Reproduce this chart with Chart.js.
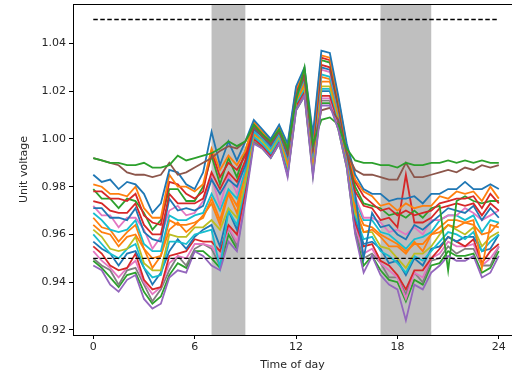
<!DOCTYPE html>
<html>
<head>
<meta charset="utf-8">
<script src="https://cdn.jsdelivr.net/npm/chart.js@4.4.0/dist/chart.umd.min.js"></script>
<style>
  html, body { margin: 0; padding: 0; background: #fff; }
  canvas { display: block; }
</style>
</head>
<body>
<canvas id="chart" width="512" height="377"></canvas>
<script>
// ---- data (unit voltage, half-hourly) ----
const HOURS = [0,0.5,1,1.5,2,2.5,3,3.5,4,4.5,5,5.5,6,6.5,7,7.5,8,8.5,9,9.5,10,10.5,11,11.5,12,
  12.5,13,13.5,14,14.5,15,15.5,16,16.5,17,17.5,18,18.5,19,19.5,20,20.5,21,21.5,22,22.5,23,23.5,24];

const X_TICKS = [0, 6, 12, 18, 24];
const Y_TICKS = [0.92, 0.94, 0.96, 0.98, 1.00, 1.02, 1.04];
const LIMITS = [0.95, 1.05];
const PEAK_WINDOWS = [[7, 9], [17, 20]];

const V_GREEN = [0.992,0.991,0.990,0.990,0.989,0.989,0.990,0.988,0.988,0.989,0.993,0.991,0.992,0.993,
  0.994,0.996,0.999,0.997,0.999,1.006,1.002,0.999,1.004,0.996,1.016,1.030,0.998,1.008,1.009,1.006,0.996,
  0.991,0.990,0.990,0.989,0.989,0.988,0.990,0.989,0.989,0.990,0.990,0.991,0.990,0.991,0.990,0.991,0.990,0.990];
const V_BROWN = [0.992,0.991,0.990,0.989,0.986,0.985,0.985,0.984,0.985,0.990,0.985,0.986,0.988,0.990,
  0.992,0.995,0.997,0.996,0.999,1.005,1.001,0.998,1.003,0.994,1.018,1.026,0.996,1.012,1.013,1.008,0.994,
  0.987,0.985,0.985,0.984,0.983,0.983,0.990,0.984,0.984,0.985,0.986,0.987,0.986,0.988,0.987,0.989,0.988,0.989];
const V_01 = [0.985,0.982,0.983,0.979,0.982,0.981,0.977,0.969,0.973,0.987,0.986,0.981,0.979,0.986,
  1.003,0.989,0.999,0.991,0.999,1.008,1.004,1.000,1.006,0.998,1.022,1.030,1.002,1.037,1.036,1.018,0.998,
  0.985,0.979,0.977,0.977,0.974,0.975,0.975,0.976,0.973,0.977,0.977,0.979,0.979,0.982,0.979,0.979,0.981,0.979];
const V_02 = [0.981,0.980,0.977,0.977,0.976,0.980,0.971,0.967,0.967,0.985,0.980,0.980,0.978,0.981,
  0.996,0.987,0.993,0.989,0.995,1.007,1.003,0.999,1.005,0.997,1.021,1.029,1.000,1.035,1.034,1.017,0.997,
  0.983,0.978,0.976,0.972,0.973,0.970,0.973,0.971,0.972,0.972,0.976,0.975,0.978,0.977,0.978,0.974,0.980,0.975];
const V_03 = [0.979,0.975,0.975,0.971,0.975,0.974,0.969,0.962,0.966,0.979,0.979,0.974,0.974,0.980,
  0.993,0.981,0.992,0.984,0.995,1.006,1.003,0.999,1.005,0.995,1.020,1.028,0.999,1.033,1.032,1.015,0.996,
  0.980,0.973,0.972,0.971,0.968,0.969,0.967,0.970,0.967,0.971,0.972,0.945,0.974,0.976,0.974,0.973,0.974,0.974];
const V_04 = [0.974,0.973,0.970,0.969,0.969,0.973,0.964,0.960,0.960,0.977,0.973,0.973,0.973,0.975,
  0.986,0.979,0.986,0.982,0.991,1.005,1.002,0.998,1.004,0.994,1.019,1.027,0.997,1.031,1.030,1.014,0.995,
  0.978,0.972,0.971,0.966,0.967,0.963,0.985,0.965,0.965,0.967,0.971,0.972,0.973,0.972,0.973,0.968,0.973,0.970];
const V_05 = [0.972,0.968,0.968,0.963,0.967,0.967,0.962,0.954,0.959,0.970,0.972,0.968,0.969,0.974,
  0.984,0.972,0.985,0.977,0.991,1.004,1.001,0.997,1.003,0.993,1.018,1.026,0.996,1.029,1.028,1.013,0.994,
  0.976,0.967,0.967,0.965,0.961,0.962,0.960,0.963,0.960,0.966,0.966,0.968,0.968,0.971,0.969,0.966,0.968,0.970];
const V_06 = [0.969,0.966,0.962,0.961,0.962,0.966,0.956,0.953,0.953,0.968,0.966,0.966,0.968,0.969,
  0.977,0.970,0.979,0.975,0.987,1.003,1.000,0.996,1.002,0.992,1.017,1.025,0.994,1.027,1.026,1.012,0.993,
  0.974,0.966,0.966,0.961,0.960,0.957,0.954,0.958,0.959,0.961,0.966,0.968,0.968,0.966,0.968,0.961,0.966,0.965];
const V_07 = [0.964,0.961,0.960,0.955,0.959,0.960,0.954,0.946,0.951,0.962,0.965,0.961,0.964,0.968,
  0.973,0.964,0.977,0.969,0.986,1.002,1.000,0.996,1.002,0.990,1.016,1.023,0.992,1.024,1.024,1.010,0.992,
  0.971,0.961,0.962,0.959,0.955,0.955,0.952,0.957,0.953,0.960,0.961,0.964,0.963,0.965,0.964,0.960,0.961,0.965];
const V_08 = [0.962,0.959,0.954,0.953,0.954,0.959,0.948,0.945,0.945,0.960,0.959,0.959,0.963,0.963,
  0.966,0.962,0.971,0.967,0.982,1.002,0.999,0.995,1.001,0.989,1.016,1.022,0.990,1.022,1.022,1.009,0.992,
  0.969,0.961,0.961,0.955,0.954,0.950,0.946,0.952,0.952,0.955,0.960,0.964,0.962,0.960,0.963,0.955,0.959,0.961];
const V_09 = [0.957,0.954,0.952,0.947,0.952,0.953,0.946,0.939,0.944,0.953,0.958,0.954,0.959,0.962,
  0.964,0.955,0.970,0.962,0.982,1.001,0.998,0.994,1.000,0.988,1.015,1.021,0.989,1.020,1.020,1.008,0.991,
  0.967,0.956,0.957,0.954,0.948,0.949,0.943,0.950,0.947,0.954,0.955,0.959,0.957,0.959,0.959,0.953,0.954,0.960];
const V_10 = [0.955,0.952,0.947,0.945,0.946,0.952,0.941,0.937,0.938,0.951,0.952,0.953,0.958,0.957,
  0.957,0.953,0.964,0.960,0.978,1.000,0.997,0.993,0.999,0.987,1.014,1.020,0.987,1.018,1.018,1.007,0.990,
  0.965,0.955,0.956,0.949,0.947,0.943,0.937,0.945,0.945,0.950,0.954,0.959,0.957,0.955,0.958,0.948,0.953,0.956];
const V_11 = [0.950,0.947,0.945,0.939,0.945,0.946,0.939,0.932,0.937,0.945,0.951,0.947,0.954,0.956,
  0.954,0.947,0.963,0.955,0.978,0.999,0.997,0.993,0.999,0.985,1.013,1.019,0.986,1.016,1.016,1.005,0.989,
  0.962,0.950,0.952,0.948,0.942,0.942,0.935,0.944,0.940,0.949,0.950,0.955,0.952,0.954,0.954,0.947,0.947,0.955];
const V_12 = [0.947,0.945,0.939,0.936,0.941,0.943,0.933,0.929,0.931,0.942,0.945,0.944,0.953,0.951,
  0.947,0.945,0.957,0.953,0.974,0.998,0.996,0.992,0.998,0.984,1.012,1.018,0.984,1.014,1.014,1.004,0.988,
  0.960,0.944,0.951,0.943,0.939,0.937,0.924,0.939,0.937,0.944,0.947,0.951,0.949,0.949,0.951,0.942,0.944,0.951];
const V_13 = [0.978,0.978,0.975,0.975,0.974,0.977,0.968,0.965,0.964,0.982,0.981,0.977,0.975,0.978,
  0.995,0.984,0.990,0.987,0.993,1.007,1.002,0.998,1.004,0.996,1.020,1.028,0.998,1.034,1.033,1.016,0.996,
  0.982,0.976,0.973,0.970,0.971,0.968,0.970,0.968,0.969,0.970,0.973,0.974,0.975,0.975,0.976,0.971,0.977,0.973];
const V_14 = [0.971,0.971,0.967,0.967,0.966,0.971,0.961,0.958,0.957,0.975,0.970,0.971,0.970,0.972,
  0.983,0.977,0.983,0.980,0.989,1.004,1.001,0.997,1.003,0.993,1.018,1.026,0.996,1.030,1.029,1.013,0.994,
  0.977,0.950,0.969,0.963,0.964,0.960,0.958,0.964,0.962,0.965,0.968,0.971,0.970,0.969,0.972,0.966,0.971,0.967];
const V_15 = [0.967,0.963,0.962,0.957,0.961,0.964,0.954,0.950,0.951,0.966,0.964,0.964,0.965,0.967,
  0.975,0.966,0.978,0.972,0.986,1.002,1.000,0.996,1.002,0.991,1.016,1.024,0.993,1.026,1.025,1.011,0.993,
  0.972,0.964,0.963,0.960,0.958,0.956,0.953,0.956,0.956,0.960,0.963,0.966,0.966,0.965,0.966,0.946,0.964,0.963];
const V_16 = [0.960,0.956,0.952,0.950,0.954,0.956,0.946,0.942,0.943,0.957,0.957,0.956,0.960,0.961,
  0.962,0.946,0.970,0.964,0.981,1.001,0.998,0.994,1.000,0.988,1.015,1.021,0.989,1.021,1.021,1.008,0.991,
  0.968,0.958,0.959,0.953,0.951,0.948,0.944,0.951,0.949,0.953,0.957,0.961,0.960,0.958,0.961,0.953,0.957,0.960];
const V_17 = [0.953,0.949,0.946,0.942,0.946,0.949,0.940,0.935,0.938,0.948,0.951,0.950,0.956,0.956,
  0.955,0.950,0.963,0.957,0.978,1.000,0.997,0.993,0.999,0.986,1.014,1.020,0.987,1.017,1.017,1.006,0.990,
  0.964,0.952,0.954,0.948,0.945,0.942,0.933,0.944,0.942,0.950,0.952,0.957,0.955,0.955,0.956,0.947,0.950,0.955];
const V_18 = [0.949,0.946,0.942,0.938,0.943,0.944,0.936,0.931,0.934,0.943,0.948,0.946,0.953,0.953,
  0.950,0.946,0.960,0.954,0.976,0.999,0.996,0.992,0.998,0.985,1.012,1.018,0.985,1.015,1.015,1.004,0.988,
  0.961,0.947,0.951,0.945,0.941,0.940,0.932,0.941,0.939,0.947,0.948,0.953,0.951,0.951,0.952,0.944,0.946,0.953];

const SERIES = [V_GREEN, V_BROWN, V_01, V_02, V_13, V_03, V_04, V_14, V_05, V_06, V_15, V_07,
  V_08, V_16, V_09, V_10, V_17, V_11, V_18, V_12];
const SERIES_COLORS = ['#2ca02c', '#8c564b', '#1f77b4', '#ff7f0e', '#d62728', '#2ca02c', '#d62728',
  '#1f77b4', '#e377c2', '#17becf', '#ff7f0e', '#ff7f0e', '#bcbd22', '#17becf', '#1f77b4', '#d62728',
  '#e377c2', '#7f7f7f', '#2ca02c', '#9467bd'];

// ---- plugins ----
const shadePlugin = {
  id: 'shade',
  beforeDatasetsDraw(chart) {
    const { ctx, chartArea, scales } = chart;
    ctx.save();
    ctx.fillStyle = 'rgba(128,128,128,0.5)';
    PEAK_WINDOWS.forEach(([a, b]) => {
      const x0 = scales.x.getPixelForValue(a);
      const x1 = scales.x.getPixelForValue(b);
      ctx.fillRect(x0, chartArea.top, x1 - x0, chartArea.bottom - chartArea.top);
    });
    ctx.restore();
  },
};

const framePlugin = {
  id: 'frame',
  afterDraw(chart) {
    const { ctx, chartArea } = chart;
    ctx.save();
    ctx.strokeStyle = '#000';
    ctx.lineWidth = 1;
    ctx.beginPath();
    ctx.moveTo(chartArea.left, chartArea.top + 0.5);
    ctx.lineTo(chartArea.right, chartArea.top + 0.5);
    ctx.stroke();
    ctx.restore();
  },
};

// ---- datasets ----
const datasets = SERIES.map((vals, i) => ({
  data: HOURS.map((h, j) => ({ x: h, y: vals[j] })),
  borderColor: SERIES_COLORS[i],
  borderWidth: 1.8,
  order: i === SERIES.length - 1 ? 0 : 1,
}));

LIMITS.forEach(v => {
  datasets.push({
    data: [{ x: X_TICKS[0], y: v }, { x: X_TICKS[X_TICKS.length - 1], y: v }],
    borderColor: '#000',
    borderWidth: 1.4,
    borderDash: [4.5, 2.5],
    order: -1,
  });
});

const tickFont = { family: 'DejaVu Sans', size: 11 };
const noPad = s => { s.paddingTop = 0; s.paddingBottom = 0; s.paddingLeft = 0; s.paddingRight = 0; };

new Chart(document.getElementById('chart'), {
  type: 'line',
  data: { datasets },
  options: {
    responsive: false,
    animation: false,
    devicePixelRatio: 1,
    layout: { padding: { top: 4, left: 0, right: 0, bottom: 0 } },
    elements: { point: { radius: 0 }, line: { tension: 0 } },
    plugins: { legend: { display: false }, tooltip: { enabled: false } },
    scales: {
      x: {
        type: 'linear',
        min: -1.2,
        max: 24.78,
        afterBuildTicks: s => { s.ticks = X_TICKS.map(v => ({ value: v })); },
        afterFit: s => { s.height = 42; noPad(s); },
        ticks: { font: tickFont, color: '#262626', padding: 2, maxRotation: 0, callback: v => v },
        grid: { drawOnChartArea: false, tickLength: 4, color: '#000' },
        border: { color: '#000', width: 1 },
        title: { display: true, text: 'Time of day', font: tickFont, color: '#262626',
                 padding: { top: 0, bottom: 5 } },
      },
      y: {
        min: 0.9179,
        max: 1.0565,
        afterBuildTicks: s => { s.ticks = Y_TICKS.map(v => ({ value: v })); },
        afterFit: s => { s.width = 73; noPad(s); },
        ticks: { font: tickFont, color: '#262626', padding: 3, callback: v => v.toFixed(2) },
        grid: { drawOnChartArea: false, tickLength: 4, color: '#000' },
        border: { color: '#000', width: 1 },
        title: { display: true, text: 'Unit voltage', font: tickFont, color: '#262626',
                 padding: { top: 18, bottom: 0 } },
      },
    },
  },
  plugins: [shadePlugin, framePlugin],
});
</script>
</body>
</html>
